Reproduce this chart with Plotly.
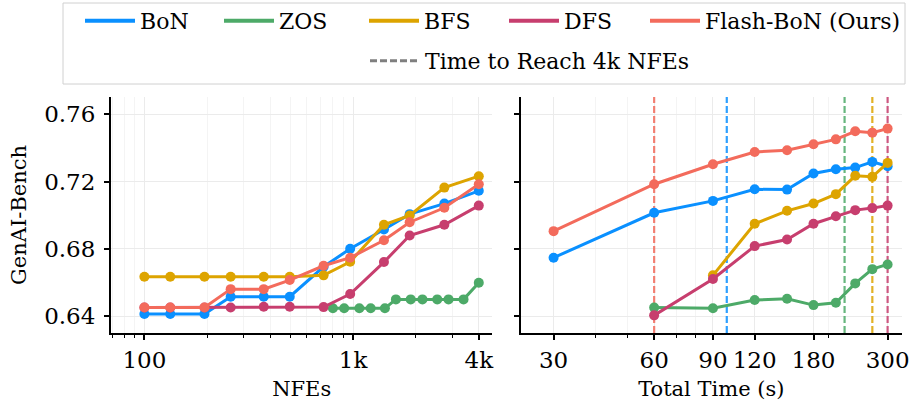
import plotly.graph_objects as go

# ---------------- data ----------------
METHODS = ["BoN", "ZOS", "BFS", "DFS", "Flash-BoN (Ours)"]
COLORS = ["#0A90FF", "#4DAA68", "#DDA400", "#C73E6E", "#F36B5C"]

# Left panel: score vs NFEs
NFE_MAIN = [100, 133, 194, 259, 373, 497, 722, 968, 1405, 1866, 2735, 4000]
NFE_ZOS = [800, 906, 1071, 1214, 1420, 1603, 1888, 2148, 2530, 2865, 3381, 4000]
BON_NFE = [0.6412, 0.6412, 0.6412, 0.6515, 0.6515, 0.6515, 0.6693, 0.6800, 0.6915, 0.7006, 0.7069, 0.7145]
ZOS_NFE = [0.6446, 0.6446, 0.6446, 0.6446, 0.6446, 0.6499, 0.6499, 0.6499, 0.6499, 0.6499, 0.6499, 0.6598]
BFS_NFE = [0.6634, 0.6634, 0.6634, 0.6634, 0.6634, 0.6634, 0.6642, 0.6723, 0.6943, 0.6998, 0.7164, 0.7232]
DFS_NFE = [0.6451, 0.6451, 0.6451, 0.6451, 0.6455, 0.6455, 0.6453, 0.6531, 0.6721, 0.6879, 0.6943, 0.7057]
FLASH_NFE = [0.6451, 0.6451, 0.6451, 0.6560, 0.6560, 0.6614, 0.6699, 0.6747, 0.6851, 0.6958, 0.7044, 0.7184]

# Right panel: score vs total time (s)
TIME_BON = [30, 60, 90, 120, 150, 180, 210, 240, 270, 300]
TIME_ZOS = [60, 90, 120, 150, 180, 210, 240, 270, 300]
TIME_BFS = [90, 120, 150, 180, 210, 240, 270, 300]
TIME_DFS = [60, 90, 120, 150, 180, 210, 240, 270, 300]
TIME_FLASH = [30, 60, 90, 120, 150, 180, 210, 240, 270, 300]
BON_TIME = [0.6747, 0.7014, 0.7085, 0.7154, 0.7152, 0.7248, 0.7273, 0.7283, 0.7317, 0.7291]
ZOS_TIME = [0.6450, 0.6446, 0.6495, 0.6503, 0.6465, 0.6479, 0.6594, 0.6679, 0.6707]
BFS_TIME = [0.6642, 0.6949, 0.7026, 0.7069, 0.7125, 0.7234, 0.7228, 0.7311]
DFS_TIME = [0.6404, 0.6620, 0.6816, 0.6855, 0.6949, 0.6994, 0.7030, 0.7042, 0.7057]
FLASH_TIME = [0.6905, 0.7184, 0.7303, 0.7376, 0.7386, 0.7422, 0.7451, 0.7499, 0.7491, 0.7515]

# Time to reach 4k NFEs (s), per method (same order as METHODS)
REACH_4K_TIME = [99, 223, 270, 300, 60]
REACH_LABEL = "Time to Reach 4k NFEs"

# Ticks / ranges
Y_RANGE = [0.6299, 0.7703]
Y_TICKS = [0.64, 0.68, 0.72, 0.76]
NFE_TICKS = [100, 1000, 4000]
NFE_TICK_TEXT = ["100", "1k", "4k"]
NFE_MINOR = [70, 80, 90, 200, 300, 400, 500, 600, 700, 800, 900, 2000, 3000]
TIME_TICKS = [30, 60, 90, 120, 180, 300]
TIME_MINOR = [40, 50, 70, 80, 200]

# ---------------- figure ----------------
FONT = "DejaVu Serif"
L, R, T, B = 111, 7, 97, 74
W, H = 909, 407
pw, ph = W - L - R, H - T - B


def px_x(p):
    return (p - L) / pw


def px_y(p):
    return 1 + (T - p) / ph


fig = go.Figure()

# vertical dashed lines first so that the data marks sit on top of them
for col, t in zip(COLORS, REACH_4K_TIME):
    fig.add_trace(go.Scatter(x=[t, t], y=Y_RANGE, mode="lines", showlegend=False,
                             hoverinfo="skip", opacity=0.85,
                             line=dict(color=col, width=2.2, dash="7px,3px"),
                             xaxis="x2", yaxis="y2"))

left_x = [NFE_MAIN, NFE_ZOS, NFE_MAIN, NFE_MAIN, NFE_MAIN]
left_y = [BON_NFE, ZOS_NFE, BFS_NFE, DFS_NFE, FLASH_NFE]
right_x = [TIME_BON, TIME_ZOS, TIME_BFS, TIME_DFS, TIME_FLASH]
right_y = [BON_TIME, ZOS_TIME, BFS_TIME, DFS_TIME, FLASH_TIME]

for name, col, xs, ys in zip(METHODS, COLORS, left_x, left_y):
    fig.add_trace(go.Scatter(x=xs, y=ys, mode="lines+markers", name=name,
                             line=dict(color=col, width=3),
                             marker=dict(color=col, size=10),
                             xaxis="x", yaxis="y", showlegend=False))
for name, col, xs, ys in zip(METHODS, COLORS, right_x, right_y):
    fig.add_trace(go.Scatter(x=xs, y=ys, mode="lines+markers", name=name,
                             line=dict(color=col, width=3),
                             marker=dict(color=col, size=10),
                             xaxis="x2", yaxis="y2", showlegend=False))

# legend entries, each in its own legend so they sit where the reference puts them
LEG_TEXT_X = [139, 278, 423, 563, 704]   # pixel x where each label starts
LEG_ROW1_Y, LEG_ROW2_Y = 21, 61
TEXT_OFFSET = 59
legend_layout = {}
for i, (name, col, tx) in enumerate(zip(METHODS, COLORS, LEG_TEXT_X)):
    key = "legend" if i == 0 else f"legend{i + 1}"
    fig.add_trace(go.Scatter(x=[None], y=[None], mode="lines", name=name,
                             line=dict(color=col, width=4), legend=key, showlegend=True))
    legend_layout[key] = dict(orientation="h", x=px_x(tx - TEXT_OFFSET), xanchor="left",
                              y=px_y(LEG_ROW1_Y), yanchor="middle",
                              font=dict(family=FONT, size=22), bgcolor="rgba(0,0,0,0)",
                              itemwidth=50)
fig.add_trace(go.Scatter(x=[None], y=[None], mode="lines", name=REACH_LABEL,
                         line=dict(color="#7f7f7f", width=3, dash="7px,3px"),
                         legend="legend6", showlegend=True))
legend_layout["legend6"] = dict(orientation="h", x=px_x(424 - TEXT_OFFSET), xanchor="left",
                                y=px_y(LEG_ROW2_Y), yanchor="middle",
                                font=dict(family=FONT, size=22), bgcolor="rgba(0,0,0,0)",
                                itemwidth=50)

# legend frame
fig.add_shape(type="rect", xref="paper", yref="paper",
              x0=px_x(63), x1=px_x(905), y0=px_y(84), y1=px_y(3),
              line=dict(color="#d0d0d0", width=1), fillcolor="rgba(0,0,0,0)", layer="above")

axis_common = dict(showline=True, linecolor="black", linewidth=2, ticks="outside",
                   ticklen=5, tickwidth=1.5, tickcolor="black", showgrid=True,
                   gridcolor="#ebebeb", gridwidth=1, zeroline=False,
                   ticklabeloverflow="allow",
                   tickfont=dict(family=FONT, size=23, color="black"))

fig.update_layout(
    width=W, height=H,
    margin=dict(l=L, r=R, t=T, b=B, autoexpand=False),
    plot_bgcolor="white", paper_bgcolor="white",
    font=dict(family=FONT, size=22, color="black"),
    xaxis=dict(domain=[0, 0.4821], type="log", range=[1.84, 3.667],
               tickvals=NFE_TICKS, ticktext=NFE_TICK_TEXT,
               minor=dict(tickvals=NFE_MINOR, ticks="outside", ticklen=3, tickwidth=1,
                          tickcolor="black", showgrid=True, gridcolor="#f4f4f4"),
               title=dict(text="NFEs", font=dict(family=FONT, size=21), standoff=10),
               anchor="y", **axis_common),
    xaxis2=dict(domain=[0.5178, 1], type="log", range=[1.3783, 2.5202],
                tickvals=TIME_TICKS, ticktext=[str(v) for v in TIME_TICKS],
                minor=dict(tickvals=TIME_MINOR, ticks="outside", ticklen=3, tickwidth=1,
                           tickcolor="black", showgrid=True, gridcolor="#f4f4f4"),
                title=dict(text="Total Time (s)", font=dict(family=FONT, size=21), standoff=10),
                anchor="y2", **axis_common),
    yaxis=dict(range=Y_RANGE, tickvals=Y_TICKS, ticktext=[f"{v:.2f}" for v in Y_TICKS],
               title=dict(text="GenAI-Bench", font=dict(family=FONT, size=21), standoff=12),
               ticklabelstandoff=4, anchor="x", **axis_common),
    yaxis2=dict(range=Y_RANGE, tickvals=Y_TICKS, showticklabels=False,
                anchor="x2", **axis_common),
    showlegend=True,
    **legend_layout,
)

fig.write_html("out.html", config={"displayModeBar": False},
               post_script="document.body.style.margin='0';document.body.style.overflow='hidden';")
